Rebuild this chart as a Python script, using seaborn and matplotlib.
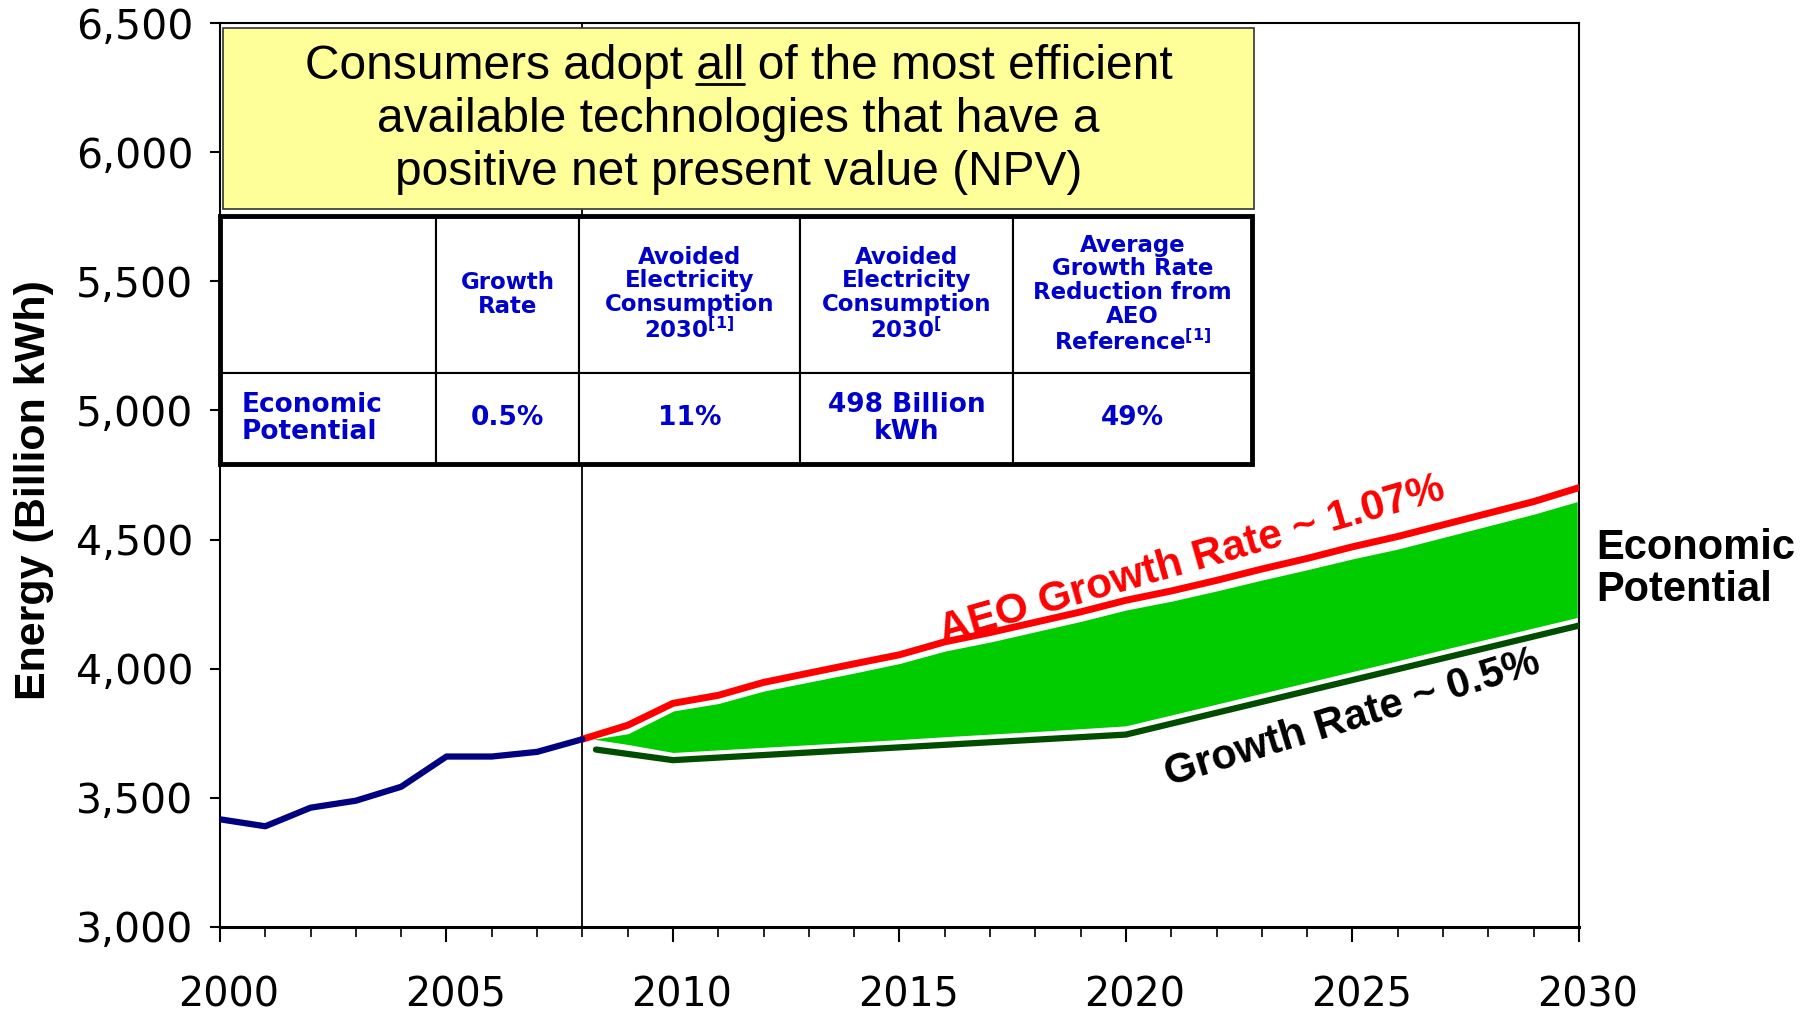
import numpy as np
import pandas as pd
import seaborn as sns
import matplotlib.pyplot as plt
from matplotlib.patches import Rectangle
from matplotlib.table import Table
from matplotlib.ticker import MultipleLocator, FuncFormatter
from matplotlib.transforms import ScaledTranslation

# historical consumption (blue line)
hist_years = list(range(2000, 2009))
hist_energy = [3417, 3390, 3462, 3489, 3543, 3660, 3660, 3678, 3727]

# AEO reference forecast, ~1.07% growth (red line)
aeo_years = list(range(2008, 2031))
aeo_energy = [3727, 3781, 3866, 3897, 3947, 3983, 4019, 4054, 4104, 4140, 4180, 4220,
              4265, 4301, 4342, 4386, 4427, 4472, 4512, 4557, 4602, 4647, 4701]

# economic potential band (green area)
band_top = [3727, 3755, 3843, 3872, 3920, 3955, 3990, 4027, 4075, 4110, 4150, 4190,
            4234, 4268, 4308, 4350, 4390, 4432, 4470, 4515, 4560, 4605, 4656]
band_bottom = [3727, 3700, 3669, 3679, 3689, 3699, 3709, 3719, 3730, 3740, 3750, 3761,
               3772, 3814, 3856, 3898, 3940, 3982, 4024, 4067, 4109, 4151, 4193]

# economic potential, ~0.5% growth (dark green line)
ep_years = [2008.3, 2010, 2020, 2030]
ep_energy = [3687, 3646, 3745, 4167]

# table contents
table_header = ["", "Growth\nRate",
                "Avoided\nElectricity\nConsumption\n2030$^{[1]}$",
                "Avoided\nElectricity\nConsumption\n2030$^{[}$",
                "Average\nGrowth Rate\nReduction from\nAEO\nReference$^{[1]}$"]
table_row = ["Economic\nPotential", "0.5%", "11%", "498 Billion\nkWh", "49%"]

title_lines = ["Consumers adopt all of the most efficient",
               "available technologies that have a",
               "positive net present value (NPV)"]

sns.set_style("ticks")
plt.rcParams['font.family'] = ['DejaVu Sans']
plt.rcParams['mathtext.default'] = 'regular'
for k in ['text.color', 'axes.labelcolor', 'xtick.color', 'ytick.color']:
    plt.rcParams[k] = 'black'

fig = plt.figure(figsize=(18.18, 10.14), dpi=100)
ax = fig.add_axes([0.121, 0.0858, 0.7475, 0.8915])

# green band with white edges, then the lines
ax.fill_between(aeo_years, band_bottom, band_top, facecolor='#00CC00',
                edgecolor='white', linewidth=2.5, zorder=2)
sns.lineplot(x=aeo_years, y=aeo_energy, ax=ax, color='#FF0000', linewidth=5, zorder=3)
sns.lineplot(x=ep_years, y=ep_energy, ax=ax, color='#004D00', linewidth=4.5, zorder=3)
sns.lineplot(x=hist_years, y=hist_energy, ax=ax, color='#000080', linewidth=4.5, zorder=4)
ax.axvline(2008, color='black', linewidth=1.3, zorder=1)

# axes, ticks
ax.set_xlim(2000, 2030)
ax.set_ylim(3000, 6500)
ax.xaxis.set_major_locator(MultipleLocator(5))
ax.xaxis.set_minor_locator(MultipleLocator(1))
ax.yaxis.set_major_locator(MultipleLocator(500))
ax.yaxis.set_major_formatter(FuncFormatter(lambda v, p: f"{int(v):,}"))
ax.tick_params(axis='x', which='major', direction='out', length=11, width=1.5, pad=24, labelsize=28.5)
ax.tick_params(axis='x', which='minor', direction='out', length=7, width=1.2)
ax.tick_params(axis='y', direction='out', length=7, width=1.5, pad=12, labelsize=29.5)
for s in ax.spines.values():
    s.set_visible(True)
    s.set_color('black')
    s.set_linewidth(1.5)
ax.spines['bottom'].set_linewidth(2.2)
ax.set_xlabel('')
ax.set_ylabel("Energy (Billion kWh)", fontsize=31, fontweight='bold', family='Liberation Sans')
ax.yaxis.set_label_coords(-0.1225, 0.483)

# yellow title box
ax.add_patch(Rectangle((0.002, 0.794), 0.759, 0.2005, transform=ax.transAxes,
                       facecolor='#FFFF99', edgecolor='#333333', linewidth=1.2, zorder=6))
title_y = [0.938, 0.8794, 0.8208]
title_size = 34.5
title_texts = []
for line, y in zip(title_lines, title_y):
    t = ax.text(0.3815, y, line, transform=ax.transAxes, ha='center', va='baseline',
                fontsize=title_size, family='Liberation Sans', color='black', zorder=7)
    title_texts.append(t)

# table
tbl = Table(ax, bbox=[0, 0.512, 0.7594, 0.2745])
col_w = [186, 124, 190, 184, 206]
row_h = [135, 79]
for c in range(5):
    cell = tbl.add_cell(0, c, width=col_w[c], height=row_h[0], text=table_header[c],
                        loc='center', facecolor='white', edgecolor='black')
    cell.set_linewidth(1.5)
    cell.get_text().set(color='#0000CC', fontweight='bold', fontsize=16.5, linespacing=1.05)
    cell = tbl.add_cell(1, c, width=col_w[c], height=row_h[1], text=table_row[c],
                        loc='left' if c == 0 else 'center', facecolor='white', edgecolor='black')
    cell.set_linewidth(1.5)
    cell.get_text().set(color='#0000CC', fontweight='bold', fontsize=19, linespacing=1.05)
tbl.auto_set_font_size(False)
tbl.set_zorder(6)
ax.add_table(tbl)
ax.add_patch(Rectangle((0, 0.512), 0.7594, 0.2745, transform=ax.transAxes, fill=False,
                       edgecolor='black', linewidth=3.5, zorder=8, clip_on=False))

# line labels
ax.text(2021.45, 4420, "AEO Growth Rate ~ 1.07%", color='#FF0000', fontsize=30.5, fontweight='bold',
        family='Liberation Sans', rotation=16, rotation_mode='anchor', ha='center', va='center', zorder=5)
ax.text(2025.0, 3808, "Growth Rate ~ 0.5%", color='black', fontsize=30, fontweight='bold',
        family='Liberation Sans', rotation=17, rotation_mode='anchor', ha='center', va='center', zorder=5)
ax.text(1.013, 0.396, "Economic\nPotential", transform=ax.transAxes, ha='left', va='center',
        fontsize=30, fontweight='bold', family='Liberation Sans', linespacing=1.05, color='black')

fig.canvas.draw()
r = fig.canvas.get_renderer()

# year labels sit a little right of their ticks in the reference
shift = ScaledTranslation(0.09, 0, fig.dpi_scale_trans)
for tk in ax.xaxis.get_major_ticks():
    tk.label1.set_transform(tk.label1.get_transform() + shift)

# underline "all" in the first title line
bb = title_texts[0].get_window_extent(r)
tmp = ax.text(0, 0, "Consumers adopt all", fontsize=title_size, family='Liberation Sans')
w_a = tmp.get_window_extent(r).width
tmp.set_text("all")
w_b = tmp.get_window_extent(r).width
tmp.remove()
base_y = ax.transAxes.transform((0.3815, title_y[0]))[1]
p0 = ax.transAxes.inverted().transform((bb.x0 + w_a - w_b, base_y - 5))
p1 = ax.transAxes.inverted().transform((bb.x0 + w_a, base_y - 5))
ax.plot([p0[0], p1[0]], [p0[1], p1[1]], transform=ax.transAxes, color='black',
        linewidth=2, zorder=8, clip_on=False)

fig.savefig('out.png', dpi=100)
